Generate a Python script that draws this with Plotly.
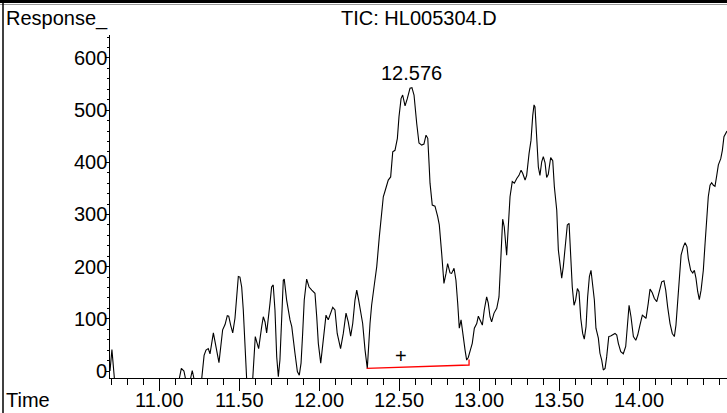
import plotly.graph_objects as go

# ---- data (time in min, response) ----
time = [10.692, 10.704, 10.721, 10.730, 11.115, 11.123, 11.138, 11.154, 11.164, 11.195, 11.206, 11.217, 11.265,
        11.280, 11.292, 11.306, 11.317, 11.338, 11.354, 11.373, 11.396, 11.411, 11.425, 11.434, 11.446, 11.459,
        11.473, 11.484, 11.494, 11.504, 11.515, 11.525, 11.537, 11.546, 11.560, 11.575, 11.584, 11.592, 11.600,
        11.609, 11.621, 11.640, 11.650, 11.661, 11.671, 11.692, 11.702, 11.712, 11.723, 11.734, 11.744, 11.754,
        11.765, 11.775, 11.781, 11.796, 11.817, 11.828, 11.848, 11.863, 11.875, 11.886, 11.896, 11.906, 11.921,
        11.936, 11.953, 11.973, 11.984, 11.994, 12.009, 12.025, 12.042, 12.056, 12.084, 12.098, 12.112, 12.133,
        12.150, 12.167, 12.181, 12.196, 12.209, 12.223, 12.234, 12.246, 12.261, 12.271, 12.286, 12.296, 12.300,
        12.317, 12.327, 12.342, 12.359, 12.375, 12.390, 12.400, 12.411, 12.431, 12.446, 12.459, 12.473, 12.488,
        12.498, 12.511, 12.521, 12.536, 12.550, 12.567, 12.579, 12.592, 12.609, 12.623, 12.640, 12.654, 12.667,
        12.678, 12.686, 12.692, 12.706, 12.723, 12.740, 12.750, 12.765, 12.779, 12.792, 12.802, 12.817, 12.827,
        12.842, 12.854, 12.865, 12.875, 12.886, 12.896, 12.911, 12.921, 12.931, 12.944, 12.956, 12.969, 12.984,
        12.994, 13.004, 13.019, 13.031, 13.046, 13.056, 13.067, 13.077, 13.092, 13.109, 13.123, 13.136, 13.146,
        13.156, 13.171, 13.181, 13.192, 13.206, 13.219, 13.234, 13.248, 13.261, 13.271, 13.286, 13.296, 13.311,
        13.323, 13.334, 13.342, 13.348, 13.359, 13.369, 13.379, 13.390, 13.400, 13.411, 13.421, 13.431, 13.446,
        13.459, 13.469, 13.484, 13.494, 13.515, 13.525, 13.540, 13.550, 13.561, 13.571, 13.581, 13.592, 13.602,
        13.613, 13.623, 13.634, 13.646, 13.656, 13.667, 13.677, 13.688, 13.698, 13.709, 13.719, 13.729, 13.744,
        13.754, 13.765, 13.775, 13.786, 13.796, 13.809, 13.821, 13.834, 13.848, 13.859, 13.869, 13.884, 13.900,
        13.915, 13.925, 13.936, 13.948, 13.963, 13.978, 13.990, 14.004, 14.019, 14.031, 14.042, 14.056, 14.067,
        14.081, 14.094, 14.109, 14.123, 14.140, 14.154, 14.165, 14.177, 14.192, 14.206, 14.219, 14.229, 14.240,
        14.250, 14.261, 14.275, 14.286, 14.298, 14.306, 14.321, 14.334, 14.344, 14.354, 14.365, 14.375, 14.386,
        14.400, 14.411, 14.421, 14.431, 14.442, 14.452, 14.463, 14.473, 14.484, 14.494, 14.509, 14.519, 14.529,
        14.540, 14.548]

response = [0, 41, -20, -30, -30, -15, 5, 0, -15, -15, 1, -15, -15,
            30, 40, 43, 33, 73, 45, 16, 79, 89, 106, 105, 88, 73,
            101, 136, 181, 180, 161, 117, 40, -15, -40, -30, -15, 27, 66,
            56, 43, 85, 104, 94, 73, 130, 161, 165, 117, 27, -11, 21,
            123, 174, 176, 136, 98, 85, 34, -1, -8, 15, 72, 136, 176,
            161, 155, 149, 104, 53, 15, 66, 107, 98, 122, 117, 72, 43,
            72, 111, 94, 67, 91, 136, 155, 136, 111, 91, 40, 8, 5,
            91, 126, 161, 200, 257, 296, 334, 345, 366, 372, 420, 423, 446,
            487, 522, 529, 508, 522, 542, 543, 529, 474, 437, 433, 435, 452,
            446, 398, 360, 318, 316, 296, 280, 225, 168, 187, 206, 188, 187,
            197, 174, 130, 82, 98, 72, 40, 21, 26, 40, 53, 82, 91,
            105, 99, 88, 117, 142, 130, 104, 94, 111, 120, 142, 225, 291,
            276, 222, 276, 334, 363, 360, 369, 375, 385, 379, 366, 375, 417,
            442, 490, 510, 506, 449, 391, 375, 401, 411, 399, 371, 377, 409,
            403, 353, 308, 232, 178, 200, 251, 280, 283, 219, 161, 126, 136,
            158, 152, 101, 72, 61, 85, 142, 181, 193, 168, 136, 82, 63,
            34, 21, 2, 5, 27, 66, 67, 69, 72, 69, 53, 37, 33,
            47, 85, 126, 104, 66, 59, 69, 88, 107, 104, 101, 130, 157,
            150, 139, 133, 149, 171, 173, 155, 123, 91, 72, 66, 88, 130,
            181, 222, 238, 246, 238, 216, 193, 188, 193, 178, 152, 137, 155,
            193, 245, 302, 334, 356, 361, 356, 354, 375, 395, 407, 423, 449,
            455, 460]

baseline_time = [12.296, 12.936, 12.936]
baseline_resp = [5, 11.5, 22]

peak_time = 12.576
peak_label = "12.576"
peak_label_y = 571
marker_time = 12.509
marker_resp = 29

x_range = [10.692, 14.548]
y_range = [-13.4, 644]
x_ticks = [11.0, 11.5, 12.0, 12.5, 13.0, 13.5, 14.0]
x_ticktext = ["11.00", "11.50", "12.00", "12.50", "13.00", "13.50", "14.00"]
y_ticks = [0, 100, 200, 300, 400, 500, 600]
y_ticktext = ["0", "100", "200", "300", "400", "500", "600"]

FONT = "Liberation Sans, Arial, sans-serif"
FS = 20

# plot-area geometry (pixels) for decorations
L, R, T, B = 110, 727, 35, 378
W, H = R - L, B - T
def px(p):
    return (p - L) / W
def py(p):
    return (B - p) / H

fig = go.Figure()
fig.add_trace(go.Scatter(x=time, y=response, mode="lines",
                         line=dict(color="black", width=1.1), hoverinfo="skip"))
fig.add_trace(go.Scatter(x=baseline_time, y=baseline_resp, mode="lines",
                         line=dict(color="#ff0000", width=1.3), hoverinfo="skip"))

fig.add_annotation(x=peak_time, y=peak_label_y, text=peak_label, showarrow=False,
                   font=dict(family=FONT, size=FS, color="black"), yanchor="middle")
fig.add_annotation(x=marker_time, y=marker_resp, text="+", showarrow=False,
                   font=dict(family=FONT, size=FS, color="black"), yanchor="middle")

# x tick labels placed just under the ticks
for tv, tt in zip(x_ticks, x_ticktext):
    fig.add_annotation(x=tv, xref="x", yref="paper", y=py(400), text=tt, showarrow=False,
                       font=dict(family=FONT, size=FS, color="black"),
                       xanchor="center", yanchor="middle")
# y tick labels placed right against the axis
for tv, tt in zip(y_ticks, y_ticktext):
    fig.add_annotation(x=px(109), xref="paper", yref="y", y=tv, text=tt, showarrow=False,
                       font=dict(family=FONT, size=FS, color="black"),
                       xanchor="right", yanchor="middle", xshift=0)

fig.add_annotation(xref="paper", yref="paper", x=0.5, y=py(18), text="TIC: HL005304.D",
                   showarrow=False, font=dict(family=FONT, size=FS, color="black"),
                   xanchor="center", yanchor="middle")
fig.add_annotation(xref="paper", yref="paper", x=px(4), y=py(18), text="Response_",
                   showarrow=False, font=dict(family=FONT, size=FS, color="black"),
                   xanchor="left", yanchor="middle")
fig.add_annotation(xref="paper", yref="paper", x=px(4), y=py(400), text="Time",
                   showarrow=False, font=dict(family=FONT, size=FS, color="black"),
                   xanchor="left", yanchor="middle")

# frame lines
fig.add_shape(type="line", xref="paper", yref="paper", x0=px(0), x1=px(727), y0=py(1.5), y1=py(1.5),
              line=dict(color="black", width=3))
fig.add_shape(type="line", xref="paper", yref="paper", x0=px(0), x1=px(727), y0=py(4.5), y1=py(4.5),
              line=dict(color="#9a9a9a", width=1))
fig.add_shape(type="line", xref="paper", yref="paper", x0=px(3), x1=px(3), y0=py(0), y1=py(413),
              line=dict(color="black", width=1.5))

fig.update_layout(
    width=727, height=413,
    margin=dict(l=L, r=727 - R, t=T, b=413 - B, pad=0),
    paper_bgcolor="white", plot_bgcolor="white",
    showlegend=False,
    font=dict(family=FONT, size=FS, color="black"),
)
fig.update_xaxes(range=x_range, showgrid=False, zeroline=False, showline=True,
                 linecolor="black", linewidth=1, ticks="outside", ticklen=12, tickwidth=1,
                 tickcolor="black", tickvals=x_ticks, showticklabels=False,
                 minor=dict(dtick=0.1, tick0=10.7, ticks="outside", ticklen=6,
                            tickcolor="black", tickwidth=1, showgrid=False))
fig.update_yaxes(range=y_range, showgrid=False, zeroline=False, showline=True,
                 linecolor="black", linewidth=1, ticks="outside", ticklen=4, tickwidth=1,
                 tickcolor="black", tickvals=y_ticks, showticklabels=False,
                 minor=dict(dtick=20, tick0=0, ticks="outside", ticklen=2,
                            tickcolor="black", tickwidth=1, showgrid=False))

fig.write_html("out.html", config={"displayModeBar": False},
               post_script="document.body.style.margin='0';")
